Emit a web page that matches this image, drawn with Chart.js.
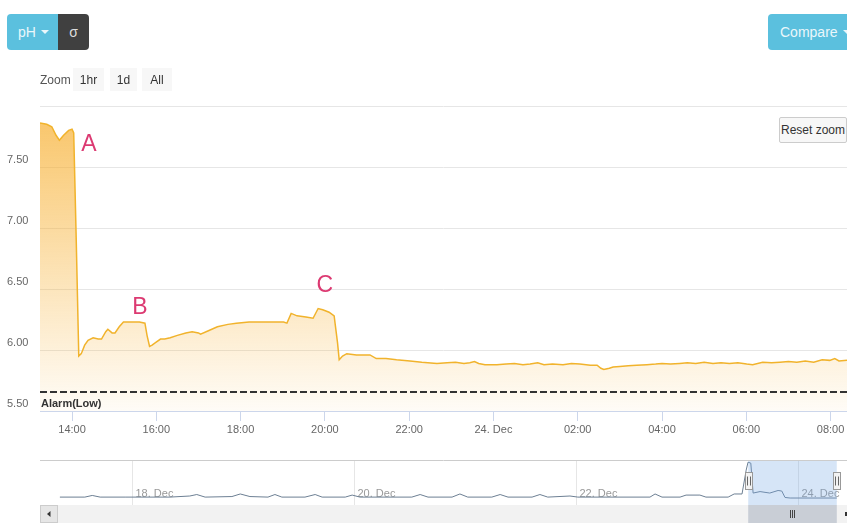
<!DOCTYPE html>
<html><head><meta charset="utf-8">
<script src="https://cdn.jsdelivr.net/npm/chart.js@4"></script>
<style>
html,body{margin:0;padding:0;background:#fff;width:847px;height:523px;overflow:hidden;font-family:"Liberation Sans",Arial,sans-serif;}
#main{position:absolute;left:0;top:0;}
#nav{position:absolute;left:0;top:455px;}
.b{position:absolute;box-sizing:border-box;display:flex;align-items:center;justify-content:center;white-space:nowrap;}
.caret{display:inline-block;width:0;height:0;border-left:4px solid transparent;border-right:4px solid transparent;border-top:4px solid #eaf7fb;margin-left:5px;}
#ph{left:7px;top:14px;width:51px;height:36px;background:#5bc0de;border-radius:4px 0 0 4px;color:#eaf7fb;font-size:14px;padding-left:2px;}
#sigma{left:58px;top:14px;width:31px;height:36px;background:#404040;border-radius:0 4px 4px 0;color:#ddd;font-size:14px;}
#compare{left:768px;top:14px;width:95px;height:36px;background:#5bc0de;border-radius:4px;color:#eaf7fb;font-size:14px;justify-content:flex-start;padding-left:12px;}
#zoomlbl{position:absolute;left:40px;top:73px;font-size:12px;color:#555;}
.zb{top:68px;height:23px;background:#f7f7f7;color:#333;font-size:12px;}
#reset{left:779px;top:117px;width:68px;height:26px;background:#f7f7f7;border:1px solid #ccc;border-radius:2px;color:#333;font-size:12px;}
</style></head>
<body>
<canvas id="main" width="847" height="441"></canvas>
<canvas id="nav" width="847" height="68"></canvas>
<div class="b" id="ph">pH<span class="caret"></span></div>
<div class="b" id="sigma">σ</div>
<div class="b" id="compare">Compare<span class="caret"></span></div>
<div id="zoomlbl">Zoom</div>
<div class="b zb" style="left:73px;width:31px;">1hr</div>
<div class="b zb" style="left:110px;width:27px;">1d</div>
<div class="b zb" style="left:142px;width:30px;">All</div>
<div class="b" id="reset">Reset zoom</div>
<script>
// ---- data (hours since 23 Dec 00:00) ----
const phHours = [13.24,13.40,13.52,13.62,13.70,13.80,13.92,14.00,14.04,14.10,14.16,14.22,14.30,14.38,14.50,14.62,14.70,14.80,14.85,14.95,15.02,15.12,15.22,15.40,15.60,15.73,15.78,15.84,15.90,15.98,16.10,16.20,16.33,16.50,16.70,16.85,17.00,17.05,17.25,17.45,17.70,17.90,18.20,18.50,18.80,19.02,19.10,19.20,19.34,19.55,19.72,19.84,19.95,20.10,20.22,20.30,20.34,20.42,20.52,20.75,21.07,21.22,21.45,21.70,22.02,22.30,22.66,22.90,23.10,23.30,23.44,23.55,23.65,23.80,24.08,24.30,24.50,24.70,24.87,25.05,25.20,25.40,25.65,25.85,26.05,26.30,26.46,26.55,26.62,26.75,26.84,27.00,27.20,27.40,27.64,27.85,28.00,28.20,28.42,28.60,28.80,29.00,29.21,29.40,29.60,29.80,30.01,30.15,30.39,30.60,30.80,31.00,31.20,31.40,31.60,31.80,31.98,32.10,32.20,32.39];
const phValues = [7.86,7.85,7.83,7.76,7.72,7.76,7.80,7.81,7.78,6.90,5.95,5.97,6.04,6.08,6.10,6.09,6.09,6.15,6.17,6.14,6.14,6.19,6.23,6.23,6.23,6.22,6.12,6.03,6.04,6.06,6.09,6.09,6.10,6.12,6.14,6.15,6.14,6.13,6.16,6.19,6.21,6.22,6.23,6.23,6.23,6.23,6.22,6.30,6.28,6.27,6.26,6.34,6.33,6.31,6.28,6.06,5.92,5.95,5.97,5.96,5.96,5.93,5.93,5.92,5.91,5.90,5.89,5.895,5.90,5.89,5.895,5.905,5.89,5.88,5.88,5.885,5.89,5.88,5.885,5.895,5.88,5.885,5.88,5.89,5.885,5.875,5.875,5.85,5.84,5.85,5.86,5.865,5.87,5.875,5.88,5.885,5.89,5.885,5.89,5.895,5.89,5.90,5.89,5.895,5.89,5.895,5.885,5.88,5.90,5.895,5.90,5.905,5.90,5.91,5.90,5.92,5.915,5.93,5.91,5.915];
const alarmLow = 5.655;
const viewMin = 13.24, viewMax = 32.39;
const xTickHours = [14,16,18,20,22,24,26,28,30,32];
const xTickLabels = ['14:00','16:00','18:00','20:00','22:00','24. Dec','02:00','04:00','06:00','08:00'];
const yTickValues = [5.5,6.0,6.5,7.0,7.5,8.0];
const yTickLabels = ['5.50','6.00','6.50','7.00','7.50',''];
const annotationLabels = ['A','B','C'];
const annotationHours = [14.40,15.61,20.00];
const annotationValues = [7.70,6.36,6.545];
// navigator (whole history)
const navHours = [-135.6,-130.2,-128.6,-126.9,-121.5,-111.8,-107.5,-106.0,-104.2,-98.4,-96.6,-94.5,-90.6,-89.1,-87.6,-82.6,-80.4,-78.9,-73.9,-72.4,-70.7,-59.5,-57.7,-56.0,-50.8,-49.1,-47.4,-42.2,-40.4,-38.7,-33.5,-31.8,-30.1,-25.3,-23.6,-8.0,-6.9,-5.4,-1.5,-0.2,2.8,4.1,8.9,10.2,11.9,12.8,13.2,13.8,14.3,15.8,17.9,19.7,20.5,21.2,22.3,26.6,32.4];
const navValues = [5.95,5.95,6.04,5.95,5.95,5.95,6.01,6.09,5.95,5.98,6.12,5.98,5.95,6.09,5.95,5.95,6.09,5.95,5.95,6.06,5.95,5.95,6.09,5.95,5.95,6.12,5.95,5.95,6.09,5.95,5.95,6.09,5.95,6.01,5.95,5.95,6.12,5.95,5.95,6.06,6.06,5.95,5.95,6.12,6.12,7.42,7.85,7.80,6.17,6.25,6.17,6.31,6.28,5.93,5.90,5.90,5.90];
const navDayHours = [-120,-72,-24,24];
const navDayLabels = ['18. Dec','20. Dec','22. Dec','24. Dec'];
const navMin = -139.9, navMax = 34.6;

const FONT = '"Liberation Sans", Arial, sans-serif';
Chart.defaults.font.family = FONT;

const overlay = {
  id:'overlay',
  afterDatasetsDraw(chart){
    const {ctx, chartArea, scales:{x,y}} = chart;
    ctx.save();
    ctx.font = 'bold 11px ' + FONT;
    ctx.fillStyle = '#333';
    ctx.textAlign = 'left'; ctx.textBaseline = 'middle';
    ctx.fillText('Alarm(Low)', chartArea.left + 1, y.getPixelForValue(alarmLow) + 12);
    ctx.font = '23px ' + FONT;
    ctx.fillStyle = '#dc3a72';
    ctx.textAlign = 'center'; ctx.textBaseline = 'alphabetic';
    annotationLabels.forEach((t,i)=>{
      ctx.fillText(t, x.getPixelForValue(annotationHours[i]), y.getPixelForValue(annotationValues[i]) + 8);
    });
    ctx.restore();
  }
};

new Chart(document.getElementById('main'), {
  type:'line',
  data:{datasets:[
    {data: phHours.map((h,i)=>({x:h,y:phValues[i]})), borderColor:'#f1b32c', borderWidth:1.5, pointRadius:0, tension:0, fill:'start', order:1,
     backgroundColor:(c)=>{
       const a = c.chart.chartArea; if(!a) return 'rgba(247,176,50,0.3)';
       const g = c.chart.ctx.createLinearGradient(0,a.top,0,a.bottom);
       g.addColorStop(0,'rgba(247,176,50,0.75)');
       g.addColorStop(1,'rgba(247,176,50,0.04)');
       return g;
     }},
    {data:[{x:viewMin,y:alarmLow},{x:viewMax,y:alarmLow}], borderColor:'#333', borderWidth:2, borderDash:[7,3], pointRadius:0, fill:false, order:0}
  ]},
  options:{
    responsive:false, animation:false, events:[],
    plugins:{legend:{display:false}, tooltip:{enabled:false}},
    layout:{padding:{top:106,left:7,right:0,bottom:0}},
    scales:{
      x:{type:'linear', min:viewMin, max:viewMax,
         afterFit(s){ s.height = 30; },
         afterBuildTicks(s){ s.ticks = xTickHours.map(v=>({value:v})); },
         ticks:{callback:(v,i)=>xTickLabels[i], color:'#666', font:{size:11}, padding:2, maxRotation:0, autoSkip:false},
         grid:{drawOnChartArea:false, drawTicks:true, tickLength:10, color:'#ccd6eb'},
         border:{display:true, color:'#ccd6eb'}},
      y:{type:'linear', min:5.5, max:8.0,
         afterFit(s){ s.width = 33; },
         afterBuildTicks(s){ s.ticks = yTickValues.map(v=>({value:v})); },
         ticks:{callback:(v,i)=>yTickLabels[i], color:'#666', font:{size:11}, crossAlign:'far', labelOffset:-7, padding:0, autoSkip:false},
         grid:{color:'#e6e6e6', drawTicks:false}, border:{display:false}}
    }
  },
  plugins:[overlay]
});

const navDeco = {
  id:'navDeco',
  beforeDatasetsDraw(chart){
    const {ctx, chartArea:a, scales:{x}} = chart;
    ctx.save();
    ctx.lineWidth = 1;
    ctx.font = '11px ' + FONT;
    ctx.textAlign = 'left'; ctx.textBaseline = 'alphabetic';
    navDayHours.forEach((h,i)=>{
      const px = Math.round(x.getPixelForValue(h)) + 0.5;
      ctx.strokeStyle = '#e6e6e6';
      ctx.beginPath(); ctx.moveTo(px,a.top); ctx.lineTo(px,a.bottom); ctx.stroke();
      ctx.fillStyle = '#999';
      ctx.fillText(navDayLabels[i], px + 3, a.top + 37);
    });
    ctx.restore();
  },
  afterDatasetsDraw(chart){
    const {ctx, chartArea:a, scales:{x}} = chart;
    const x0 = x.getPixelForValue(viewMin), x1 = x.getPixelForValue(viewMax);
    ctx.save();
    ctx.fillStyle = 'rgba(120,170,230,0.3)';
    ctx.fillRect(x0, a.top, x1 - x0, a.bottom - a.top);
    ctx.strokeStyle = '#ccc'; ctx.lineWidth = 1;
    ctx.beginPath(); ctx.moveTo(a.left, a.top + 0.5); ctx.lineTo(a.right, a.top + 0.5); ctx.stroke();
    // scrollbar
    const sTop = a.bottom, sH = chart.height - a.bottom;
    ctx.fillStyle = '#f2f2f2';
    ctx.fillRect(a.left, sTop, a.right - a.left, sH);
    ctx.fillStyle = '#e6e6e6';
    ctx.fillRect(a.left, sTop, 18, sH);
    ctx.strokeStyle = '#ccc';
    ctx.strokeRect(a.left + 0.5, sTop + 0.5, 17, sH - 1);
    ctx.fillStyle = '#333';
    ctx.beginPath(); const cx = a.left + 9, cy = sTop + sH/2;
    ctx.moveTo(cx - 2, cy); ctx.lineTo(cx + 1.5, cy - 3); ctx.lineTo(cx + 1.5, cy + 3); ctx.closePath(); ctx.fill();
    ctx.fillStyle = '#c9ced6';
    ctx.fillRect(x0, sTop, x1 - x0, sH);
    ctx.strokeStyle = '#444';
    const mx = Math.round((x0 + x1)/2);
    [-2,0,2].forEach(d=>{ ctx.beginPath(); ctx.moveTo(mx + d + 0.5, cy - 4); ctx.lineTo(mx + d + 0.5, cy + 4); ctx.stroke(); });
    ctx.fillStyle = '#333';
    ctx.fillRect(a.right - 2, cy - 2, 2, 4);
    // handles
    [x0, x1].forEach(hx=>{
      const l = Math.round(hx - 3.5) + 0.5, t = a.top + 12.5;
      ctx.fillStyle = '#f2f2f2'; ctx.strokeStyle = '#999';
      ctx.fillRect(l, t, 7, 17); ctx.strokeRect(l, t, 7, 17);
      ctx.strokeStyle = '#666';
      [2,5].forEach(d=>{ ctx.beginPath(); ctx.moveTo(l + d, t + 4); ctx.lineTo(l + d, t + 13); ctx.stroke(); });
    });
    ctx.restore();
  }
};

new Chart(document.getElementById('nav'), {
  type:'line',
  data:{datasets:[{data: navHours.map((h,i)=>({x:h,y:navValues[i]})), borderColor:'#6c7f93', borderWidth:1, pointRadius:0, tension:0, fill:false}]},
  options:{
    responsive:false, animation:false, events:[],
    plugins:{legend:{display:false}, tooltip:{enabled:false}},
    layout:{padding:{top:5,left:40,right:0,bottom:18}},
    scales:{
      x:{type:'linear', display:false, min:navMin, max:navMax},
      y:{type:'linear', display:false, min:5.52, max:7.97}
    }
  },
  plugins:[navDeco]
});
</script>
</body></html>
